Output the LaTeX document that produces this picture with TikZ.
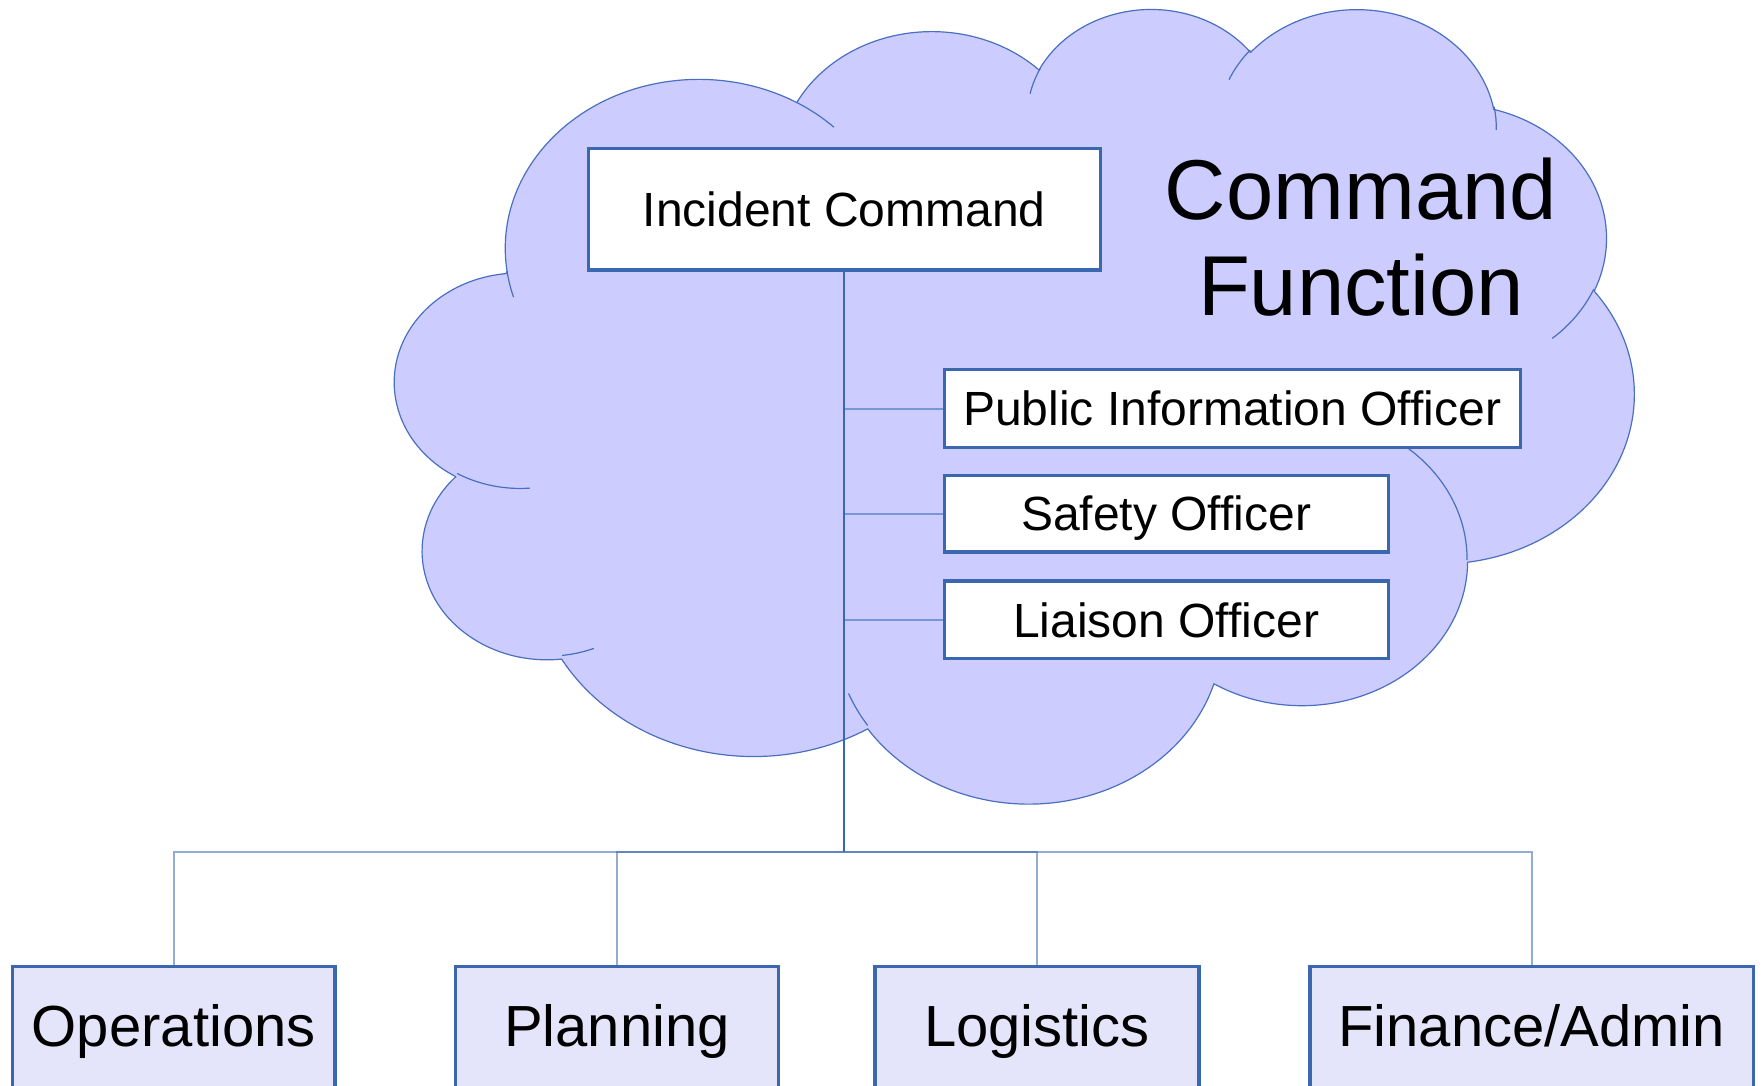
\documentclass[tikz,border=0pt]{standalone}
\usepackage{fontspec}
\setmainfont{Liberation Sans}
\usetikzlibrary{calc}
\definecolor{cloudfill}{HTML}{CCCCFF}
\definecolor{cloudline}{HTML}{4A6FC0}
\definecolor{boxline}{HTML}{3B67B0}
\definecolor{lowfill}{HTML}{E4E4FA}
\definecolor{branchcol}{HTML}{7895D6}
\newcommand\oxprep[5]{%
  \pgfmathsetmacro\oxts{atan2((#2)*sin(#4),(#3)*cos(#4))}%
  \pgfmathsetmacro\oxte{atan2((#2)*sin((#4)+(#5)),(#3)*cos((#4)+(#5)))}%
  \pgfmathsetmacro\oxdd{mod(\oxte-\oxts+720,360)}%
  \pgfmathsetmacro\oxns{0-(\oxts)}%
  \pgfmathsetmacro\oxnd{0-(\oxdd)}%
  \expandafter\xdef\csname oxs#1\endcsname{\oxns}%
  \expandafter\xdef\csname oxd#1\endcsname{\oxnd}%
}
\def\Sx{0.02867477}
\def\Sy{0.01837963}
\tikzset{
  topbox/.style={draw=boxline, line width=3.3pt, fill=white, inner sep=0pt,
    font=\fontsize{48}{56}\selectfont, text height=34.4pt, text depth=0pt},
  lowbox/.style={draw=boxline, line width=3.3pt, fill=lowfill, inner sep=0pt,
    font=\fontsize{58}{68}\selectfont, text height=41.5pt, text depth=21.4pt,
    minimum height=140},
  titletext/.style={inner sep=0pt, font=\fontsize{85}{96}\selectfont},
  cloudshape/.style={fill=cloudfill, draw=cloudline, line width=1.2pt, line join=round},
  cloudinner/.style={draw=cloudline, line width=1.2pt},
  mainline/.style={draw=boxline, line width=2.2pt},
  branchline/.style={draw=branchcol, line width=2pt},
  lowline/.style={draw=boxline, draw opacity=0.55, line width=2pt},
}
\begin{document}
\begin{tikzpicture}[x=1pt, y=-1pt]
\oxprep{A}{6753}{9190}{-190.487483}{123.780533}
\oxprep{B}{5333}{7267}{-144.102383}{89.945233}
\oxprep{C}{4365}{5945}{-145.807917}{99.723017}
\oxprep{D}{4857}{6595}{-130.986067}{117.241733}
\oxprep{E}{5333}{7273}{-78.708883}{109.026917}
\oxprep{F}{6775}{9220}{-46.26725}{130.269}
\oxprep{G}{5785}{7867}{0.625017}{114.033333}
\oxprep{H}{6752}{9215}{22.4516}{115.17255}
\oxprep{I}{7720}{10543}{66.242633}{75.711017}
\oxprep{J}{4360}{5918}{-274.942083}{146.735567}
\oxprep{K}{4345}{5945}{-246.8285}{152.51885}
\oxprep{a}{4345}{5945}{86.742}{26.4295}
\oxprep{b}{4360}{5918}{73.610467}{11.447467}
\oxprep{c}{6752}{9215}{137.62415}{14.0811}
\oxprep{d}{6752}{9215}{6.453267}{15.99835}
\oxprep{e}{5785}{7867}{-70.29235}{70.917367}
\oxprep{f}{5333}{7273}{30.318033}{27.7515}
\oxprep{g}{4857}{6595}{-13.744333}{14.8589}
\oxprep{h}{4857}{6595}{-149.18145}{18.195367}
\oxprep{i}{4365}{5945}{-163.494267}{17.68635}
\oxprep{j}{6753}{9190}{-66.70695}{12.31935}
\oxprep{k}{6753}{9190}{157.65435}{11.858167}
\useasboundingbox (0,0) rectangle (1764,1086);
\clip (0,0) rectangle (1764,1086);
% cloud
\begin{scope}[shift={(395.2,7)}, x=0.2867477pt, y=-0.1837963pt]
\path[cloudshape] (390.0,1437.0)
  arc[start angle=\oxsA, delta angle=\oxdA, x radius=6753*\Sx pt, y radius=9190*\Sy pt]
  arc[start angle=\oxsB, delta angle=\oxdB, x radius=5333*\Sx pt, y radius=7267*\Sy pt]
  arc[start angle=\oxsC, delta angle=\oxdC, x radius=4365*\Sx pt, y radius=5945*\Sy pt]
  arc[start angle=\oxsD, delta angle=\oxdD, x radius=4857*\Sx pt, y radius=6595*\Sy pt]
  arc[start angle=\oxsE, delta angle=\oxdE, x radius=5333*\Sx pt, y radius=7273*\Sy pt]
  arc[start angle=\oxsF, delta angle=\oxdF, x radius=6775*\Sx pt, y radius=9220*\Sy pt]
  arc[start angle=\oxsG, delta angle=\oxdG, x radius=5785*\Sx pt, y radius=7867*\Sy pt]
  arc[start angle=\oxsH, delta angle=\oxdH, x radius=6752*\Sx pt, y radius=9215*\Sy pt]
  arc[start angle=\oxsI, delta angle=\oxdI, x radius=7720*\Sx pt, y radius=10543*\Sy pt]
  arc[start angle=\oxsJ, delta angle=\oxdJ, x radius=4360*\Sx pt, y radius=5918*\Sy pt]
  arc[start angle=\oxsK, delta angle=\oxdK, x radius=4345*\Sx pt, y radius=5945*\Sy pt]
  -- cycle;
\draw[cloudinner]
  (469.3,2617.7) arc[start angle=\oxsa, delta angle=\oxda, x radius=4345*\Sx pt, y radius=5945*\Sy pt]
  (692.8,3489.9) arc[start angle=\oxsb, delta angle=\oxdb, x radius=4360*\Sx pt, y radius=5918*\Sy pt]
  (1647.8,3909.0) arc[start angle=\oxsc, delta angle=\oxdc, x radius=6752*\Sx pt, y radius=9215*\Sy pt]
  (2882.7,3475.1) arc[start angle=\oxsd, delta angle=\oxdd, x radius=6752*\Sx pt, y radius=9215*\Sy pt]
  (3412.9,2295.4) arc[start angle=\oxse, delta angle=\oxde, x radius=5785*\Sx pt, y radius=7867*\Sy pt]
  (4179.8,1535.4) arc[start angle=\oxsf, delta angle=\oxdf, x radius=5333*\Sx pt, y radius=7273*\Sy pt]
  (3832.4,542.6) arc[start angle=\oxsg, delta angle=\oxdg, x radius=4857*\Sx pt, y radius=6595*\Sy pt]
  (2907.8,395.2) arc[start angle=\oxsh, delta angle=\oxdh, x radius=4857*\Sx pt, y radius=6595*\Sy pt]
  (2214.1,472.0) arc[start angle=\oxsi, delta angle=\oxdi, x radius=4365*\Sx pt, y radius=5945*\Sy pt]
  (1400.0,519.2) arc[start angle=\oxsj, delta angle=\oxdj, x radius=6753*\Sx pt, y radius=9190*\Sy pt]
  (412.7,1578.9) arc[start angle=\oxsk, delta angle=\oxdk, x radius=6753*\Sx pt, y radius=9190*\Sy pt];
\end{scope}
% title
\node[titletext, anchor=base] (cf1) at (1361,219) {Command};
\node[titletext, anchor=base] (cf2) at (1361,315) {Function};
% boxes
\node[topbox, minimum width=512, minimum height=121.7] (ic) at (844.3,209.2) {Incident Command};
\node[topbox, minimum width=576, minimum height=77.6] (pio) at (1232.2,408.5) {Public Information Officer};
\node[topbox, minimum width=444, minimum height=76.7] (safety) at (1166.2,513.7) {Safety Officer};
\node[topbox, minimum width=444, minimum height=77.7] (liaison) at (1166.2,619.8) {Liaison Officer};
\node[lowbox, minimum width=322.7] (ops) at (173.7,1036.7) {Operations};
\node[lowbox, minimum width=323] (plan) at (617,1036.7) {Planning};
\node[lowbox, minimum width=324] (logi) at (1037,1036.7) {Logistics};
\node[lowbox, minimum width=443.3] (fin) at (1531.7,1036.7) {Finance/Admin};
% connectors
\coordinate (hubrow) at (0,852);
\coordinate (hub) at (ic.south |- hubrow);
\draw[branchline] (pio.west) -- (pio.west -| ic.south);
\draw[branchline] (safety.west) -- (safety.west -| ic.south);
\draw[branchline] (liaison.west) -- (liaison.west -| ic.south);
\draw[lowline] (hub) -| (ops.north);
\draw[lowline] (hub) -| (plan.north);
\draw[lowline] (hub) -| (logi.north);
\draw[lowline] (hub) -| (fin.north);
\draw[mainline] (ic.south) -- (hub);
\end{tikzpicture}
\end{document}
